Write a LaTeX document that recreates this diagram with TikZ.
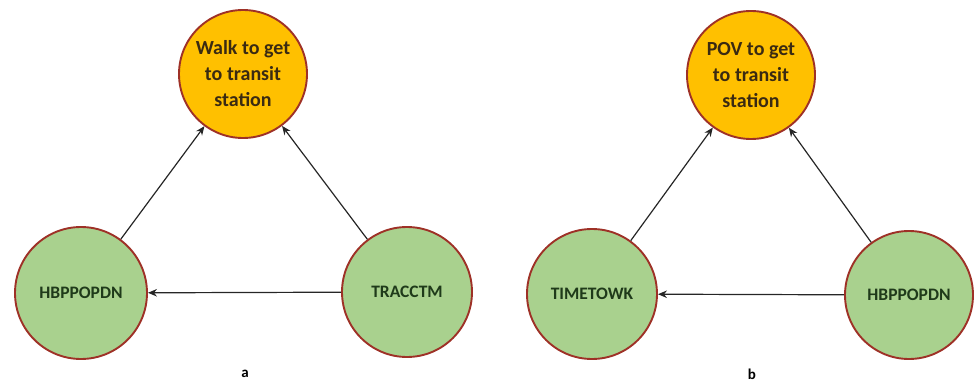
\documentclass[tikz,border=0pt]{standalone}
\usepackage{fontspec}
\setmainfont{Carlito}
\usetikzlibrary{arrows.meta}
\definecolor{grn}{HTML}{A9D18E}
\definecolor{org}{HTML}{FFC000}
\definecolor{bdr}{HTML}{9E3127}
\definecolor{gtxt}{HTML}{1F3A1A}
\definecolor{otxt}{HTML}{3A2A12}
\tikzset{
  gnode/.style={circle, draw=bdr, line width=1.9pt, fill=grn, text=gtxt, font=\fontsize{17.5}{22}\selectfont\bfseries, inner sep=0pt},
  onode/.style={circle, draw=bdr, line width=1.9pt, fill=org, text=otxt, font=\fontsize{20}{26}\selectfont\bfseries, align=center, inner sep=0pt},
  conn/.style={-{Stealth[length=9pt,width=7.5pt]}, line width=1.2pt, draw=black!85},
  lab/.style={font=\fontsize{15}{17}\selectfont\bfseries}
}
\begin{document}
\begin{tikzpicture}[x=1pt,y=-1pt]
\useasboundingbox (0,0) rectangle (975,385);
% panel a
\node[onode, minimum size=128pt] (wa) at (243,74) {Walk to get\\to transit\\station};
\node[gnode, minimum size=132pt] (ha) at (81,293) {HBPPOPDN};
\node[gnode, minimum size=130pt] (ta) at (407,292) {TRACCTM};
\draw[conn] (ha) -- (wa);
\draw[conn] (ta) -- (wa);
\draw[conn] (ta) -- (ha);
\node[lab] (la) at (245,374) {a};
% panel b
\node[onode, minimum size=128pt] (pb) at (751,75) {POV to get\\to transit\\station};
\node[gnode, minimum size=130pt] (tb) at (592,294) {TIMETOWK};
\node[gnode, minimum size=128pt] (hb) at (909,295) {HBPPOPDN};
\draw[conn] (tb) -- (pb);
\draw[conn] (hb) -- (pb);
\draw[conn] (hb) -- (tb);
\node[lab] (lb) at (752,374) {b};
\end{tikzpicture}
\end{document}
